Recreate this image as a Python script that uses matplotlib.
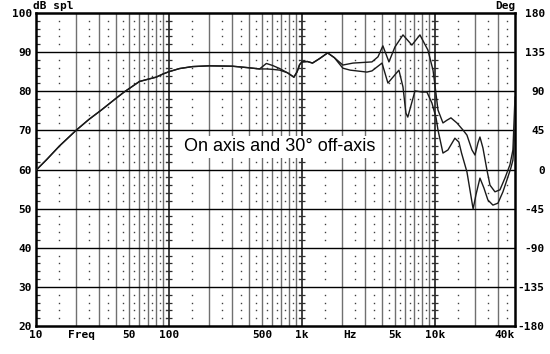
import numpy as np
import matplotlib
matplotlib.use('Agg')
import matplotlib.pyplot as plt

# Frequency response readings (Hz, dB spl)
freq_low = [10, 12, 15, 20, 25, 31, 40, 46, 60, 70, 80, 90, 100, 120, 150,
            200, 300, 400, 480]
db_low = [59.8, 62.5, 66.0, 70.0, 72.8, 75.2, 78.2, 79.8, 82.5, 83.1, 83.6,
          84.4, 85.0, 85.8, 86.3, 86.5, 86.4, 86.0, 85.7]

freq_bump = [540, 600, 680]
db_bump_on = [87.1, 86.6, 85.8]
db_bump_off = [85.7, 85.6, 85.4]

freq_mid = [780, 870, 920, 960, 1000, 1100, 1200, 1350, 1560, 1750]
db_mid = [84.7, 83.6, 85.0, 86.8, 87.5, 87.6, 87.2, 88.3, 89.8, 88.6]

freq_hi_on = [2030, 2420, 3360, 3730, 4060, 4510, 5000, 5750, 6710, 7710,
              8860, 9670, 10000, 10540, 11490, 12310, 13190, 14630, 16240,
              17400, 18980, 20000, 21060, 21800, 22960, 24600, 25940, 28270,
              30820, 33600, 36640, 38580, 40000]
db_hi_on = [86.7, 87.2, 87.5, 88.8, 91.6, 87.5, 91.3, 94.4, 91.8, 94.4,
            90.5, 85.4, 81.6, 75.2, 71.9, 72.6, 73.2, 71.9, 70.1,
            68.8, 65.0, 63.7, 66.8, 68.3, 65.5, 59.9, 56.0, 54.3,
            54.8, 57.8, 61.2, 65.0, 78.5]

freq_hi_off = [2030, 2300, 3080, 3360, 4000, 4430, 5360, 5750, 6050, 6250,
               7080, 7980, 8700, 9490, 10200, 10540, 11490, 12530, 14130,
               15140, 15850, 17400, 18330, 19370, 20330, 21800, 23340, 25020,
               27290, 29780, 32460, 34760, 37240, 38580, 40000]
db_hi_off = [85.9, 85.4, 84.9, 85.2, 87.2, 82.1, 85.4, 81.1, 74.4, 73.4,
             80.1, 79.8, 79.8, 77.0, 73.2, 70.1, 64.2, 65.0, 68.0,
             67.0, 64.2, 59.4, 54.8, 49.9, 53.5, 57.8, 55.3, 52.2,
             50.9, 51.4, 54.3, 57.3, 60.4, 62.4, 70.1]

on_f = freq_low + freq_bump + freq_mid + freq_hi_on
on_db = db_low + db_bump_on + db_mid + db_hi_on
off_f = freq_low + freq_bump + freq_mid + freq_hi_off
off_db = db_low + db_bump_off + db_mid + db_hi_off

x_ticks = [10, 21.8, 50, 100, 500, 1000, 2300, 5000, 10000, 40000]
x_labels = ['10', 'Freq', '50', '100', '500', '1k', 'Hz', '5k', '10k', '40k']
y_ticks = [20, 30, 40, 50, 60, 70, 80, 90, 100]
deg_ticks = [-180, -135, -90, -45, 0, 45, 90, 135, 180]

mono = {'family': 'DejaVu Sans Mono', 'weight': 'bold', 'size': 8}

fig = plt.figure(figsize=(5.5, 3.54), dpi=100)
ax = fig.add_axes([36 / 550, 28 / 354, 479 / 550, 313 / 354])
ax.set_xscale('log')
ax.set_xlim(10, 40000)
ax.set_ylim(20, 100)

# solid grid: 2..9 in each decade, darker at decades
for dec in [10, 100, 1000, 10000]:
    for m in range(1, 10):
        f = dec * m
        if f <= 10 or f >= 40000:
            continue
        if m == 1:
            ax.axvline(f, color='#303030', lw=1.3, zorder=1)
        else:
            ax.axvline(f, color='#707070', lw=1.0, zorder=1)
for y in range(30, 100, 10):
    ax.axhline(y, color='black', lw=1.0, zorder=1)

# dotted grid at half steps, one dot every 2 dB
dot_db = [d for d in range(22, 100, 2) if d % 10 != 0]
for dec in [10, 100, 1000, 10000]:
    for m in range(1, 10):
        f = dec * (m + 0.5)
        if f >= 40000:
            continue
        ax.plot([f] * len(dot_db), dot_db, ls='none', marker='s', ms=1.0,
                mew=0, color='#404040', zorder=1)

# cross ticks on decade lines
for f in [100, 1000, 10000]:
    ax.plot([f] * len(dot_db), dot_db, ls='none', marker='_', ms=5, mew=0.9,
            color='#303030', zorder=1)

ax.plot(on_f, on_db, color='#1a1a1a', lw=1.0, zorder=3)
ax.plot(off_f, off_db, color='#1a1a1a', lw=1.0, zorder=3)

ax.set_xticks(x_ticks)
ax.set_xticklabels(x_labels, fontdict=mono)
ax.xaxis.set_minor_locator(matplotlib.ticker.NullLocator())
ax.set_yticks(y_ticks)
ax.set_yticklabels([str(v) for v in y_ticks], fontdict=mono)
ax.set_yticks(dot_db, minor=True)
ax.tick_params(axis='both', which='major', length=0, pad=3)
ax.tick_params(axis='y', which='minor', direction='in', length=3,
               width=0.9, left=True, right=True, color='#303030')
ax.xaxis.get_ticklabels()[-1].set_ha('right')

for s in ax.spines.values():
    s.set_linewidth(1.8)
    s.set_color('black')

ax2 = ax.twinx()
ax2.set_ylim(-180, 180)
ax2.set_yticks(deg_ticks)
ax2.set_yticklabels([str(v) for v in deg_ticks], fontdict=mono, ha='right')
ax2.tick_params(axis='y', length=0, pad=21.5)
ax2.spines[:].set_visible(False)

fig.text(33 / 550, 1 - 6 / 354, 'dB spl', fontdict=mono, ha='left', va='center')
fig.text(516 / 550, 1 - 6 / 354, 'Deg', fontdict=mono, ha='right', va='center')

ax.text(0.509, 0.572, 'On axis and 30\u00b0 off-axis', transform=ax.transAxes,
        family='Liberation Sans', fontsize=13, ha='center', va='center',
        bbox=dict(facecolor='white', edgecolor='none', pad=1.5), zorder=4)

fig.savefig('out.png', dpi=100)
